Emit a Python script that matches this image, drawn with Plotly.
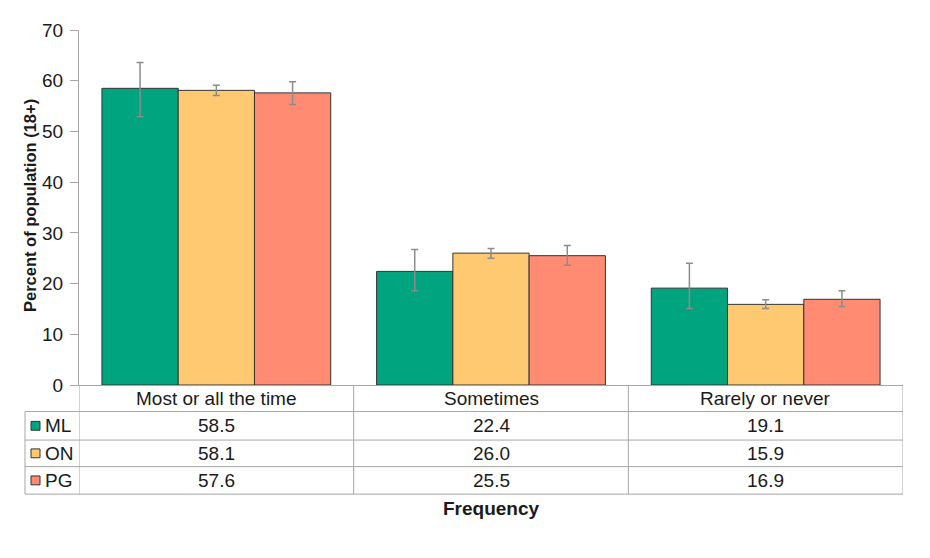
import plotly.graph_objects as go

categories = ["Most or all the time", "Sometimes", "Rarely or never"]
series_names = ["ML", "ON", "PG"]
ml_values = [58.5, 22.4, 19.1]
on_values = [58.1, 26.0, 15.9]
pg_values = [57.6, 25.5, 16.9]
ml_err_plus = [5.1, 4.3, 4.9]
ml_err_minus = [5.6, 3.8, 4.0]
on_err_plus = [1.0, 0.9, 0.9]
on_err_minus = [1.0, 1.0, 0.8]
pg_err_plus = [2.2, 2.0, 1.7]
pg_err_minus = [2.3, 1.9, 1.4]
y_ticks = [0, 10, 20, 30, 40, 50, 60, 70]

colors = ["#00A47F", "#FFC972", "#FF8B73"]
OFF = 8  # page body margin
W, H = 930 - OFF, 558 - OFF
# plot area in picture pixels
L, R, T, B = 79, 903, 24, 385

def px(xp):
    return (xp - L) / (R - L)

def py(yp):
    return (B - yp) / (B - T)

FONT = "Liberation Sans, Arial, sans-serif"
TXT = "#1a1a1a"
LINE = "#A6A6A6"
FS = 19

values = [ml_values, on_values, pg_values]
plus = [ml_err_plus, on_err_plus, pg_err_plus]
minus = [ml_err_minus, on_err_minus, pg_err_minus]

fig = go.Figure()
for name, vals, ep, em, c in zip(series_names, values, plus, minus, colors):
    fig.add_trace(go.Bar(
        x=list(range(len(categories))), y=vals, name=name,
        marker=dict(color=c, line=dict(color="#333333", width=1)),
        error_y=dict(type="data", symmetric=False, array=ep, arrayminus=em,
                     color="#8C8C8C", thickness=1.5, width=3.5),
    ))

shapes = []
annotations = []
row_lines = [412, 441, 468, 496]
row_centers = [(412 + 441) / 2, (441 + 468) / 2, (468 + 496) / 2]
header_center = (385 + 412) / 2

for yl in row_lines:
    shapes.append(dict(type="line", xref="paper", yref="paper",
                       x0=px(25), x1=1, y0=py(yl), y1=py(yl),
                       line=dict(color=LINE, width=1)))
for i in range(len(categories) + 1):
    xb = i - 0.5
    shapes.append(dict(type="line", xref="x", yref="paper",
                       x0=xb, x1=xb, y0=py(496), y1=py(385),
                       line=dict(color=LINE, width=1)))
shapes.append(dict(type="line", xref="paper", yref="paper",
                   x0=px(25), x1=px(25), y0=py(496), y1=py(412),
                   line=dict(color=LINE, width=1)))

for i, cat in enumerate(categories):
    annotations.append(dict(x=i, y=py(header_center), xref="x", yref="paper",
                            text=cat, showarrow=False,
                            font=dict(family=FONT, size=FS, color=TXT),
                            xanchor="center", yanchor="middle"))

for r, (name, vals, c) in enumerate(zip(series_names, values, colors)):
    yc = row_centers[r]
    shapes.append(dict(type="rect", xref="paper", yref="paper",
                       x0=px(31), x1=px(40), y0=py(yc + 4.5), y1=py(yc - 4.5),
                       fillcolor=c, line=dict(color="#333333", width=1)))
    annotations.append(dict(x=px(43), y=py(yc), xref="paper", yref="paper",
                            text=name, showarrow=False,
                            font=dict(family=FONT, size=FS, color=TXT),
                            xanchor="left", yanchor="middle"))
    for i, v in enumerate(vals):
        annotations.append(dict(x=i, y=py(yc), xref="x", yref="paper",
                                text=f"{v:.1f}", showarrow=False,
                                font=dict(family=FONT, size=FS, color=TXT),
                                xanchor="center", yanchor="middle"))

annotations.append(dict(x=px(30), y=py(203), xref="paper", yref="paper",
                        text="<b>Percent of population (18+)</b>", showarrow=False,
                        textangle=-90, font=dict(family=FONT, size=16.5, color=TXT),
                        xanchor="center", yanchor="middle"))
annotations.append(dict(x=0.5, y=py(511), xref="paper", yref="paper",
                        text="<b>Frequency</b>", showarrow=False,
                        font=dict(family=FONT, size=FS, color=TXT),
                        xanchor="center", yanchor="middle"))

fig.update_layout(
    width=W, height=H,
    margin=dict(l=L - OFF, r=(W + OFF) - R, t=T - OFF, b=(H + OFF) - B, pad=0),
    paper_bgcolor="white", plot_bgcolor="white",
    barmode="group", bargap=0.167, bargroupgap=0,
    showlegend=False,
    shapes=shapes, annotations=annotations,
    font=dict(family=FONT, size=FS, color=TXT),
)
fig.update_xaxes(range=[-0.5, len(categories) - 0.5], showticklabels=False,
                 showline=True, linecolor=LINE, linewidth=1, ticks="",
                 showgrid=False, zeroline=False, fixedrange=True)
fig.update_yaxes(range=[0, 70], tickvals=y_ticks, showline=True, linecolor=LINE,
                 linewidth=1, ticks="outside", ticklen=8, tickcolor=LINE,
                 ticklabelstandoff=3,
                 showgrid=False, zeroline=False,
                 tickfont=dict(family=FONT, size=FS, color=TXT))

fig.write_html("out.html")
